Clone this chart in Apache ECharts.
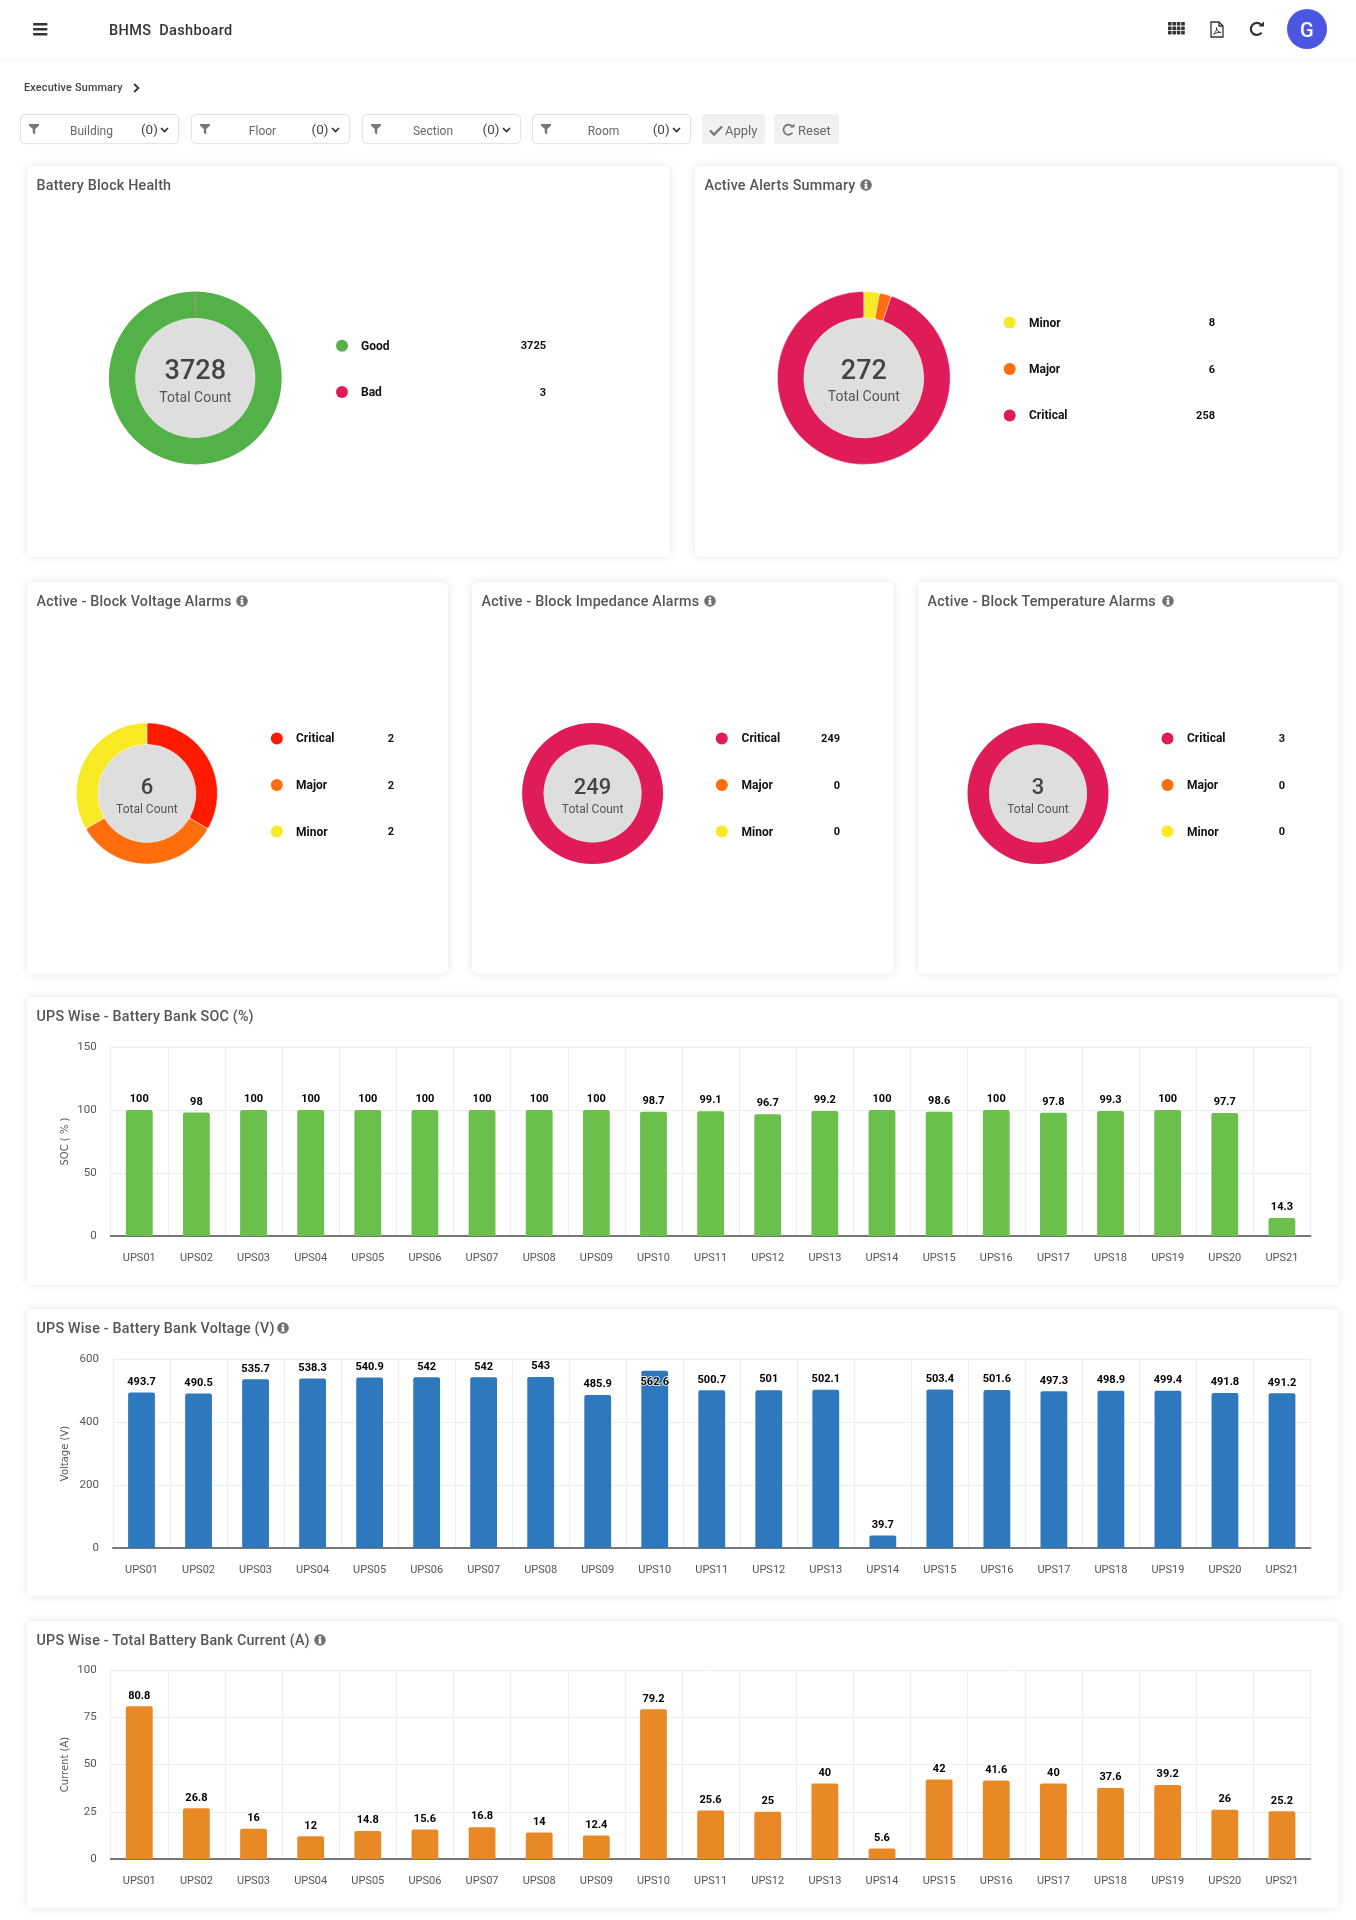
<!DOCTYPE html>
<html>
<head>
<meta charset="utf-8">
<title>BHMS Dashboard</title>
<script src="https://cdn.jsdelivr.net/npm/echarts@6/dist/echarts.min.js"></script>
<style>
html,body{margin:0;padding:0;background:#fff;width:1356px;height:1920px;overflow:hidden;font-family:Roboto,sans-serif;}
#page{position:relative;width:1356px;height:1920px;}
#chart{position:absolute;left:0;top:0;width:1356px;height:1920px;z-index:2;}
.a{position:absolute;}
.t{position:absolute;white-space:nowrap;transform:translateY(-50%);line-height:1;}
.card{position:absolute;background:#fff;border-radius:5px;box-shadow:0 0 9px rgba(0,0,0,.11);z-index:1;}
.box{position:absolute;background:#fff;border:1px solid #e3e3e3;border-radius:5px;box-sizing:border-box;box-shadow:0 0 2px rgba(0,0,0,.05);}
.btn{position:absolute;background:#f1f1f1;border-radius:3px;}
#chrome{position:absolute;left:0;top:0;width:1356px;height:1920px;z-index:3;pointer-events:none;}
</style>
</head>
<body>
<div id="page">
  <div id="cards"></div>
  <div id="chart"></div>
  <div id="chrome"></div>
</div>
<script>
// ---------- data ----------
const upsNames = ['UPS01','UPS02','UPS03','UPS04','UPS05','UPS06','UPS07','UPS08','UPS09','UPS10','UPS11','UPS12','UPS13','UPS14','UPS15','UPS16','UPS17','UPS18','UPS19','UPS20','UPS21'];
const socValues = [100,98,100,100,100,100,100,100,100,98.7,99.1,96.7,99.2,100,98.6,100,97.8,99.3,100,97.7,14.3];
const voltageValues = [493.7,490.5,535.7,538.3,540.9,542,542,543,485.9,562.6,500.7,501,502.1,39.7,503.4,501.6,497.3,498.9,499.4,491.8,491.2];
const currentValues = [80.8,26.8,16,12,14.8,15.6,16.8,14,12.4,79.2,25.6,25,40,5.6,42,41.6,40,37.6,39.2,26,25.2];

const healthNames = ['Good','Bad'];
const healthValues = [3725,3];
const alertNames = ['Minor','Major','Critical'];
const alertValues = [8,6,258];
const voltageAlarmNames = ['Critical','Major','Minor'];
const voltageAlarmValues = [2,2,2];
const impedanceAlarmNames = ['Critical','Major','Minor'];
const impedanceAlarmValues = [249,0,0];
const temperatureAlarmNames = ['Critical','Major','Minor'];
const temperatureAlarmValues = [3,0,0];
const filterNames = ['Building','Floor','Section','Room'];

// ---------- palette ----------
const GREEN='#52B248',CRIM='#DF1C57',YEL='#F7E923',ORA='#FF6D0D',RED='#FF1A00',GREY='#DEDEDE';
const FONT='Roboto, sans-serif';

// ---------- page chrome ----------
const cardsEl=document.getElementById('cards'), chrome=document.getElementById('chrome');
function add(parent,html){parent.insertAdjacentHTML('beforeend',html);}
function txt(x,y,s,st){add(chrome,`<div class="t" style="left:${x}px;top:${y}px;${st}">${s}</div>`);}
const INFO=(x,y)=>`<svg class="a" style="left:${x-6}px;top:${y-6}px" width="12" height="12" viewBox="0 0 13 13"><circle cx="6.5" cy="6.5" r="6.3" fill="#707070"/><rect x="5.2" y="5.4" width="2.6" height="4.6" fill="#fff"/><rect x="4.4" y="9.3" width="4.2" height="1.1" fill="#fff"/><rect x="4.6" y="5.3" width="2" height="1" fill="#fff"/><circle cx="6.5" cy="3.5" r="1.3" fill="#fff"/></svg>`;

// header
add(cardsEl,`<div class="a" style="left:0;top:0;width:1356px;height:58px;background:#fff;box-shadow:0 2px 6px rgba(0,0,0,.05)"></div>`);
add(chrome,`<svg class="a" style="left:33px;top:22px" width="15" height="14" viewBox="0 0 15 14"><rect y="1" width="14.5" height="2.4" rx="1" fill="#333"/><rect y="6" width="14.5" height="2.4" rx="1" fill="#333"/><rect y="11" width="14.5" height="2.4" rx="1" fill="#333"/></svg>`);
txt(109,31,'BHMS&nbsp; Dashboard','font-size:14.5px;font-weight:500;color:#333;letter-spacing:.35px;');
let grid='';for(let r=0;r<3;r++)for(let c=0;c<4;c++)grid+=`<rect x="${c*4.4}" y="${r*4.4}" width="3.6" height="3.6" rx=".6" fill="#333"/>`;
add(chrome,`<svg class="a" style="left:1167.5px;top:22px" width="17" height="13" viewBox="0 0 17 13">${grid}</svg>`);
add(chrome,`<svg class="a" style="left:1210px;top:21px" width="14" height="17" viewBox="0 0 14 17"><path d="M1 1H9L13 5V16H1Z M9 1V5H13" fill="none" stroke="#333" stroke-width="1.3"/><path d="M3.5 13.5C6 11 7 8 6.5 6.5 C6.5 9 8.5 11.5 11 11.5C8.5 11 5.5 12 3.5 13.5Z" fill="none" stroke="#333" stroke-width=".9"/></svg>`);
add(chrome,`<svg class="a" style="left:1249px;top:21px" width="16" height="16" viewBox="0 0 16 16"><path d="M12.6 11.6A6 6 0 1 1 12 3.6" fill="none" stroke="#333" stroke-width="2.2"/><path d="M9.6 5.6H15V0.4Z" fill="#333"/></svg>`);
add(chrome,`<div class="a" style="left:1287px;top:9px;width:40px;height:40px;border-radius:50%;background:#4B57E3"></div>`);
txt(1300,30,'G','font-size:20px;font-weight:500;color:#fff;');

// breadcrumb
txt(24,88,'Executive Summary','font-size:10.8px;font-weight:500;color:#444;letter-spacing:.2px;');
add(chrome,`<svg class="a" style="left:133px;top:83px" width="7" height="10" viewBox="0 0 7 10"><path d="M1.2 1L5.4 5L1.2 9" fill="none" stroke="#333" stroke-width="1.8"/></svg>`);

// filters
const filterX=[20,190.6,361.6,531.7], filterCx=[91.5,262.5,433,603.5];
filterNames.forEach((n,i)=>{
  const x=filterX[i];
  add(cardsEl,`<div class="box" style="left:${x}px;top:114px;width:159px;height:30px"></div>`);
  add(chrome,`<svg class="a" style="left:${x+9}px;top:124px" width="10" height="11" viewBox="0 0 10 11"><path d="M0 0H10V1.6L6.2 5V10.5L3.8 9V5L0 1.6Z" fill="#777"/></svg>`);
  txt(filterCx[i],131,n,'font-size:12px;color:#666;transform:translate(-50%,-50%);');
  txt(x+121,129.5,'(0)','font-size:13.5px;color:#444;');
  add(chrome,`<svg class="a" style="left:${x+140}px;top:127px" width="9" height="6" viewBox="0 0 9 6"><path d="M1 1L4.5 4.5L8 1" fill="none" stroke="#333" stroke-width="1.7"/></svg>`);
});
add(cardsEl,`<div class="btn" style="left:702px;top:114px;width:63px;height:30px"></div><div class="btn" style="left:774px;top:114px;width:64.5px;height:30px"></div>`);
add(chrome,`<svg class="a" style="left:709px;top:125px" width="14" height="11" viewBox="0 0 14 11"><path d="M1 5.5L5 9.5L13 1.5" fill="none" stroke="#777" stroke-width="2.4"/></svg>`);
txt(725,130,'Apply','font-size:13px;color:#666;');
add(chrome,`<svg class="a" style="left:782px;top:123px" width="13" height="13" viewBox="0 0 13 13"><path d="M10.4 9.8A5 5 0 1 1 9.8 3" fill="none" stroke="#777" stroke-width="1.8"/><path d="M7.8 4.6H12.4V0.4Z" fill="#777"/></svg>`);
txt(798,129.5,'Reset','font-size:13px;color:#666;');

// cards and titles
const cards=[
 {x:27,y:166,w:643,h:391,title:'Battery Block Health'},
 {x:695,y:166,w:644,h:391,title:'Active Alerts Summary',info:865.8},
 {x:27,y:582,w:421,h:392,title:'Active - Block Voltage Alarms',info:241.5},
 {x:472,y:582,w:422,h:392,title:'Active - Block Impedance Alarms',info:709.7},
 {x:918,y:582,w:421,h:392,title:'Active - Block Temperature Alarms',info:1167.5},
 {x:27,y:997,w:1312,h:288,title:'UPS Wise - Battery Bank SOC (%)'},
 {x:27,y:1309,w:1312,h:287,title:'UPS Wise - Battery Bank Voltage (V)',info:282.6},
 {x:27,y:1621,w:1312,h:287,title:'UPS Wise - Total Battery Bank Current (A)',info:320}
];
const titleY=[185,185,601,601,601,1016,1328,1640];
cards.forEach((c,i)=>{
  add(cardsEl,`<div class="card" style="left:${c.x}px;top:${c.y}px;width:${c.w}px;height:${c.h}px"></div>`);
  txt(c.x+9.5,titleY[i],c.title,'font-size:14.3px;font-weight:500;color:#555;letter-spacing:.2px;');
  if(c.info) add(chrome,INFO(c.info,titleY[i]));
});

// ---------- donuts ----------
const donuts=[
 {names:healthNames,values:healthValues,colors:[GREEN,CRIM],cx:195.3,cy:378,r:86.4,ri:60,numSize:27,capSize:14,numY:372,capY:398,dotX:342,labX:361,valX:546,legY:[346.7,393]},
 {names:alertNames,values:alertValues,colors:[YEL,ORA,CRIM],cx:863.8,cy:378,r:86.4,ri:60,numSize:27,capSize:14,numY:372,capY:397,dotX:1009.7,labX:1029,valX:1215,legY:[323.5,370,416.4],gap:true},
 {names:voltageAlarmNames,values:voltageAlarmValues,colors:[RED,ORA,YEL],cx:146.9,cy:793.5,r:70.5,ri:49,numSize:22,capSize:12,numY:788,capY:810,dotX:276.8,labX:296,valX:394,legY:[739.4,786,832.5],gap:true},
 {names:impedanceAlarmNames,values:impedanceAlarmValues,colors:[CRIM,ORA,YEL],cx:592.6,cy:793.5,r:70.5,ri:49,numSize:22,capSize:12,numY:788,capY:810,dotX:721.8,labX:741.6,valX:840,legY:[739.4,786,832.5]},
 {names:temperatureAlarmNames,values:temperatureAlarmValues,colors:[CRIM,ORA,YEL],cx:1038,cy:793.5,r:70.5,ri:49,numSize:22,capSize:12,numY:788,capY:810,dotX:1167.5,labX:1187,valX:1285,legY:[739.4,786,832.5]}
];
const series=[], graphicEls=[];
donuts.forEach(d=>{
  series.push({
    type:'pie',silent:true,radius:[d.ri,d.r],center:[d.cx,d.cy],startAngle:90,clockwise:true,
    minAngle:0,avoidLabelOverlap:false,label:{show:false},labelLine:{show:false},animation:false,
    itemStyle:d.gap?{borderRadius:2,borderColor:'#fff',borderWidth:0.4}:{borderWidth:0},
    data:d.names.map((n,i)=>({name:n,value:d.values[i],itemStyle:{color:d.colors[i]}}))
  });
  graphicEls.push({type:'circle',silent:true,shape:{cx:d.cx,cy:d.cy,r:d.ri},style:{fill:GREY},z:1});
  const total=d.values.reduce((a,b)=>a+b,0);
  graphicEls.push({type:'text',silent:true,x:d.cx,y:d.numY,z:5,style:{text:String(total),fill:'#444',font:`500 ${d.numSize}px ${FONT}`,align:'center',verticalAlign:'middle'}});
  graphicEls.push({type:'text',silent:true,x:d.cx,y:d.capY,z:5,style:{text:'Total Count',fill:'#555',font:`400 ${d.capSize}px ${FONT}`,align:'center',verticalAlign:'middle'}});
  d.names.forEach((n,i)=>{
    const y=d.legY[i];
    graphicEls.push({type:'circle',silent:true,shape:{cx:d.dotX,cy:y-1,r:6},style:{fill:d.colors[i]},z:5});
    graphicEls.push({type:'text',silent:true,x:d.labX,y:y,z:5,style:{text:n,fill:'#111',font:`700 12px ${FONT}`,align:'left',verticalAlign:'middle'}});
    graphicEls.push({type:'text',silent:true,x:d.valX,y:y,z:5,style:{text:String(d.values[i]),fill:'#111',font:`700 11px ${FONT}`,align:'right',verticalAlign:'middle'}});
  });
});

// ---------- bars ----------
const bars=[
 {values:socValues,color:'#6BBF4B',name:'SOC ( % )',max:150,interval:50,left:110.7,top:1047,bottom:1236,nameGap:40},
 {values:voltageValues,color:'#2E78BD',name:'Voltage (V)',max:600,interval:200,left:113,top:1359,bottom:1548,nameGap:42.5,inside:[9]},
 {values:currentValues,color:'#E88926',name:'Current (A)',max:100,interval:25,left:110.7,top:1670,bottom:1859,nameGap:40}
];
const grids=[],xAxes=[],yAxes=[];
const labelBase={show:true,position:'top',distance:5,color:'#000',fontFamily:FONT,fontWeight:700,fontSize:11,textBorderColor:'#fff',textBorderWidth:1.5};
bars.forEach((b,k)=>{
  grids.push({left:b.left,width:1310.5-b.left,top:b.top,height:b.bottom-b.top,containLabel:false});
  xAxes.push({type:'category',gridIndex:k,data:upsNames,
    axisLine:{show:true,lineStyle:{color:'#777',width:2}},axisTick:{show:false},
    axisLabel:{color:'#555',fontFamily:FONT,fontSize:11,margin:17,interval:0},
    splitLine:{show:true,interval:0,lineStyle:{color:'#eeeeee',width:1}}});
  yAxes.push({type:'value',gridIndex:k,min:0,max:b.max,interval:b.interval,
    name:b.name,nameLocation:'middle',nameRotate:90,nameGap:b.nameGap,nameMoveOverlap:false,
    nameTextStyle:{color:'#555',fontFamily:'DejaVu Sans',fontSize:10},
    axisLine:{show:false},axisTick:{show:false},
    axisLabel:{color:'#555',fontFamily:FONT,fontSize:11.5,margin:14,padding:[0,0,2,0]},
    splitLine:{show:true,lineStyle:{color:'#eeeeee',width:1}}});
  series.push({type:'bar',xAxisIndex:k,yAxisIndex:k,barWidth:26.8,silent:true,animation:false,
    itemStyle:{color:b.color,borderRadius:[2,2,0,0]},label:labelBase,
    data:b.values.map((v,i)=>(b.inside&&b.inside.includes(i))
      ?{value:v,label:{position:'insideTop',distance:5.5}}:v)});
});

// ---------- render ----------
const chart=echarts.init(document.getElementById('chart'),null,{width:1356,height:1920});
chart.setOption({animation:false,backgroundColor:'transparent',textStyle:{fontFamily:FONT},
  grid:grids,xAxis:xAxes,yAxis:yAxes,series:series,graphic:{elements:graphicEls}});
</script>
</body>
</html>
